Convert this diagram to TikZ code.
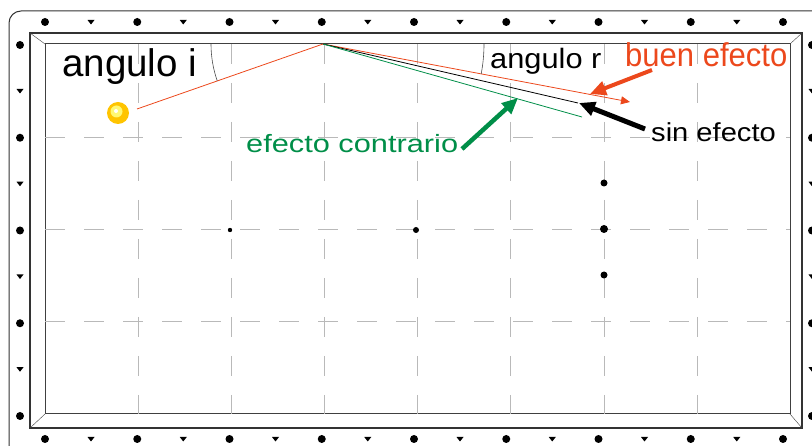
\documentclass[tikz,border=0pt]{standalone}
\usepackage{fontspec}
\setmainfont{Liberation Sans}
\usepackage{graphicx}
\usetikzlibrary{arrows.meta}
\definecolor{rojo}{RGB}{236,72,28}
\definecolor{verde}{RGB}{0,142,72}
\definecolor{amarillo}{RGB}{255,196,0}

\begin{document}
\begin{tikzpicture}[x=1pt, y=-1pt,
    rejilla/.style={gray!55, line width=0.8pt, dash pattern=on 20pt off 19pt},
    tiro/.style={line width=0.8pt},
    flecha/.style={line width=4.5pt, -{Triangle[length=16pt,width=14pt]}},
    rotulo/.style={anchor=base west, inner sep=0pt}]
    \useasboundingbox (0,0) rectangle (812,446);

    % mesa
    \draw[rounded corners=12pt, line width=1pt, black!80] (9,11) rectangle (826,462);
    \draw[line width=1.2pt, black!80] (30,33) rectangle (802,428);
    \draw[line width=1pt, black!75] (45,44) rectangle (790,414);
    \draw[black!75] (30,33) -- (45,44) (802,33) -- (790,44) (30,428) -- (45,414) (802,428) -- (790,414);

    % rejilla
    \foreach \x in {138,231,324,417,510,604,697}
        \draw[rejilla] (\x,44) -- (\x,414);
    \foreach \y in {137,229,321}
        \draw[rejilla] (45,\y) -- (790,\y);

    % marcas de la banda
    \foreach \i in {0,...,8} {
        \fill (45+92.25*\i,22) circle (4);
        \fill (45+92.25*\i,439) circle (4);
    }
    \foreach \i in {0,...,7} {
        \fill[shift={(91+92.25*\i,22)}] (-3.5,-2) -- (3.5,-2) -- (0,2.5) -- cycle;
        \fill[shift={(91+92.25*\i,439)}] (-3.5,-2) -- (3.5,-2) -- (0,2.5) -- cycle;
    }
    \foreach \i in {0,...,4} {
        \fill (20,45+92.75*\i) circle (4);
        \fill (812,45+92.75*\i) circle (4);
    }
    \foreach \i in {0,...,3} {
        \fill[shift={(20,91+92.75*\i)}] (-3.5,-2) -- (3.5,-2) -- (0,2.5) -- cycle;
        \fill[shift={(812,91+92.75*\i)}] (-3.5,-2) -- (3.5,-2) -- (0,2.5) -- cycle;
    }

    % puntos de la mesa
    \fill (230,230) circle (2.2);
    \fill (416,230) circle (3);
    \fill (604,183) circle (3.5);
    \fill (604,229) circle (4);
    \fill (604,275) circle (3.5);

    % bola
    \node[circle, inner sep=0pt, minimum size=22pt, fill=amarillo] (bola) at (118,113) {};
    \fill[yellow!55] ([shift={(-1.5,-1.5)}]bola.center) circle (6);
    \fill[white] ([shift={(-2,-2)}]bola.center) circle (2);

    \coordinate (salida) at (137,109);
    \coordinate (tope) at (323,44);
    \coordinate (buen) at (630,102);
    \coordinate (sin) at (578,103);
    \coordinate (contra) at (582,117);

    \draw[tiro, rojo] (salida) -- (tope);
    \draw[tiro, rojo, -{Triangle[length=9pt,width=8pt]}] (tope) -- (buen);
    \draw[tiro, black] (tope) -- (sin);
    \draw[tiro, verde] (tope) -- (contra);

    % angulos
    \draw[black!70, line width=0.6pt] ([shift={(180:112)}]tope) arc[start angle=180, end angle=160.7, radius=112];
    \draw[black!70, line width=0.6pt] ([shift={(0:161)}]tope) arc[start angle=0, end angle=10.7, radius=161];

    % rotulos
    \node[rotulo, font=\fontsize{38.5}{38.5}\selectfont] (angi) at (62,77) {angulo i};
    \node[rotulo, font=\fontsize{28}{28}\selectfont] (angr) at (490,69) {\scalebox{1.1}[1]{angulo r}};
    \node[rotulo, rojo, font=\fontsize{33}{33}\selectfont] (buenlbl) at (625,67) {\scalebox{0.94}[1]{buen efecto}};
    \node[rotulo, font=\fontsize{26}{26}\selectfont] (sinlbl) at (651,142) {\scalebox{1.12}[1]{sin efecto}};
    \node[rotulo, verde, font=\fontsize{25}{25}\selectfont] (contlbl) at (246,153) {\scalebox{1.23}[1]{efecto contrario}};

    % flechas gruesas
    \coordinate (colaR) at (652,70);
    \coordinate (puntaR) at (590,94);
    \coordinate (colaS) at (645,129);
    \coordinate (puntaS) at (579,103);
    \coordinate (colaC) at (462,149);
    \coordinate (puntaC) at (518,98);
    \draw[flecha, rojo, line width=4pt] (colaR) -- (puntaR);
    \draw[flecha, black, line width=5pt] (colaS) -- (puntaS);
    \draw[flecha, verde] (colaC) -- (puntaC);
\end{tikzpicture}
\end{document}
